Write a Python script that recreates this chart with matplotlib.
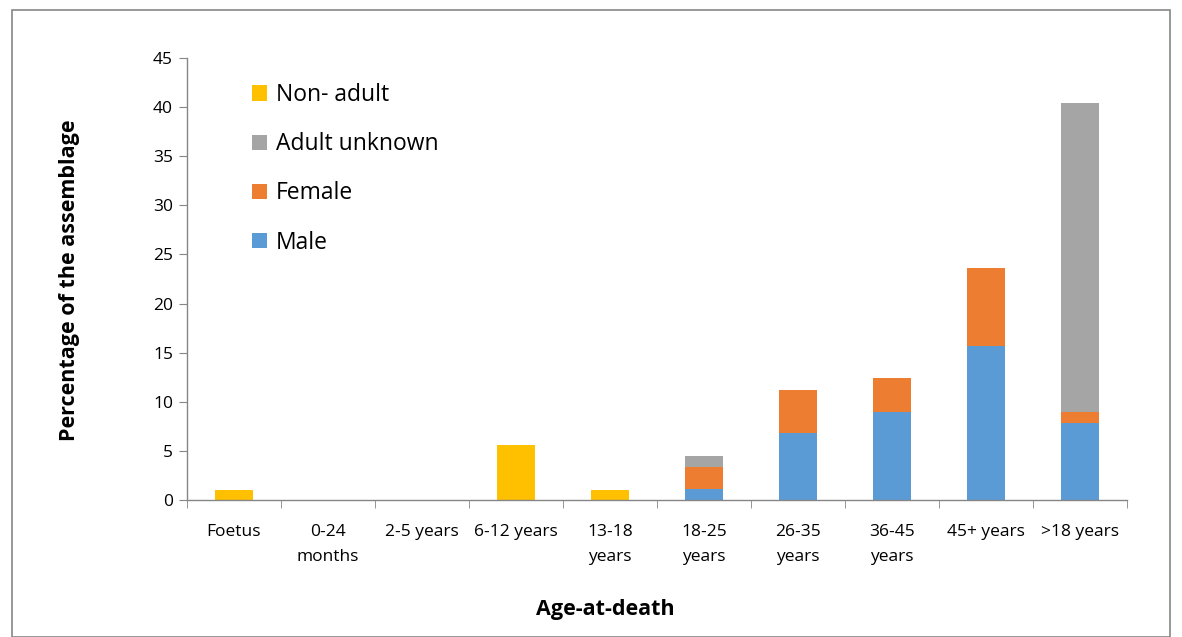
import matplotlib.pyplot as plt
import numpy as np
from matplotlib.patches import Rectangle

plt.rcParams['font.family'] = ['Open Sans', 'DejaVu Sans']

categories = ['Foetus', '0-24\nmonths', '2-5 years', '6-12 years', '13-18\nyears',
              '18-25\nyears', '26-35\nyears', '36-45\nyears', '45+ years', '>18 years']
male = [0, 0, 0, 0, 0, 1.1, 6.8, 9.0, 15.7, 7.8]
female = [0, 0, 0, 0, 0, 2.3, 4.4, 3.4, 7.9, 1.2]
adult_unknown = [0, 0, 0, 0, 0, 1.1, 0, 0, 0, 31.45]
non_adult = [1.0, 0, 0, 5.6, 1.0, 0, 0, 0, 0, 0]

c_male = '#5b9bd5'
c_female = '#ed7d31'
c_unknown = '#a5a5a5'
c_nonadult = '#ffc000'

fig = plt.figure(figsize=(11.82, 6.37), dpi=100)
ax = fig.add_axes([187/1182, 1 - 500/637, 940/1182, 442/637])

x = np.arange(len(categories))
w = 0.4
b1 = np.array(male)
b2 = b1 + np.array(female)
b3 = b2 + np.array(adult_unknown)
hm = ax.bar(x, male, w, color=c_male, label='Male')
hf = ax.bar(x, female, w, bottom=b1, color=c_female, label='Female')
hu = ax.bar(x, adult_unknown, w, bottom=b2, color=c_unknown, label='Adult unknown')
hn = ax.bar(x, non_adult, w, bottom=b3, color=c_nonadult, label='Non- adult')

ax.set_xlim(-0.5, len(categories) - 0.5)
ax.set_ylim(0, 45)
ax.set_yticks(range(0, 46, 5))
ax.set_xticks(x)
ax.set_xticklabels(categories, fontsize=12.5, linespacing=1.75)
ax.set_xticks(np.arange(-0.5, len(categories), 1), minor=True)
ax.tick_params(axis='x', which='major', length=0, pad=17)
ax.tick_params(axis='x', which='minor', length=6, color='#868686', direction='out')
ax.tick_params(axis='y', length=6, color='#868686', labelsize=12.5, pad=4)

for s in ['top', 'right']:
    ax.spines[s].set_visible(False)
for s in ['left', 'bottom']:
    ax.spines[s].set_color('#868686')
    ax.spines[s].set_linewidth(1)

ax.set_ylabel('Percentage of the assemblage', fontsize=15.5, fontweight='bold', va='center')
ax.yaxis.set_label_coords(-117/940, 220/442)
ax.set_xlabel('Age-at-death', fontsize=15.5, fontweight='bold', va='center')
ax.xaxis.set_label_coords(0.445, -110/442)

ax.legend(handles=[hn, hu, hf, hm], loc='upper left', bbox_to_anchor=(0.047, 0.99),
          frameon=False, fontsize=16.5, labelspacing=1.1, handlelength=0.65,
          handleheight=0.65, handletextpad=0.4)

fig.patches.append(Rectangle((12/1182, 0), 1158/1182, 1 - 10/637, transform=fig.transFigure,
                             fill=False, edgecolor='#868686', linewidth=1.2))

fig.savefig('out.png', dpi=100)
